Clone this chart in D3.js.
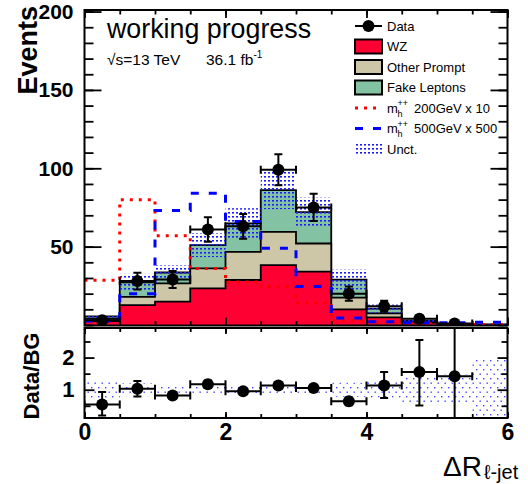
<!DOCTYPE html>
<html>
<head>
<meta charset="utf-8">
<script src="https://cdn.jsdelivr.net/npm/d3@7"></script>
<style>
  body { margin: 0; background: #fff; }
  svg { display: block; font-family: "Liberation Sans", Arial, sans-serif; }
</style>
</head>
<body>
<div id="chart"></div>
<script>
// ===== データ (ΔR_l-jet, 0.5 刻み) =====
const binEdges = [0, 0.5, 1, 1.5, 2, 2.5, 3, 3.5, 4, 4.5, 5, 5.5, 6];
const wz          = [2.5, 12.7, 14.9, 23.4, 28.7, 38.2, 34, 10, 4.9, 1.5, 0.4, 0.2];
const otherPrompt = [1.5, 5.3, 11.6, 12.7, 18, 21.2, 18, 7.5, 2.5, 0.6, 0.15, 0.05];
const fakeLeptons = [1.5, 9.2, 7, 14.9, 18.1, 26.6, 20, 11.5, 3, 0.7, 0.15, 0.05];
const dataCounts  = [3, 28, 29, 61, 63, 99, 75, 20, 12, 4, 1, 0];
const dataErr     = [1.7, 5.3, 5.4, 7.8, 7.9, 9.9, 8.7, 4.5, 3.5, 2, 1, 0];
const relUnct     = [0.27, 0.2, 0.14, 0.15, 0.15, 0.14, 0.13, 0.22, 0.25, 0.45, 0.47, 1.0];
const sig200      = [28.5, 80, 57, 36, 27.5, 24.5, 14, 3, 1.5, 0.8, 0.5, 0.3];
const sig500      = [2.5, 20, 73, 84, 66, 49, 24.5, 4.5, 2, 1.5, 1.5, 1.8];
const ratioVals   = [0.54, 1.03, 0.82, 1.17, 0.95, 1.13, 1.05, 0.64, 1.13, 1.55, 1.42, null];
const ratioErrLo  = [0.34, 0.24, 0.1, 0.12, 0.1, 0.1, 0.1, 0.12, 0.39, 1.04, 1.42, null];
const ratioErrHi  = [0.39, 0.24, 0.1, 0.12, 0.1, 0.1, 0.1, 0.12, 0.42, 1.0, 3.0, null];
const xTicks      = [0, 2, 4, 6];
const yTicks      = [50, 100, 150, 200];
const ratioTicks  = [1, 2];
const legendLabels = ['Data', 'WZ', 'Other Prompt', 'Fake Leptons', '200GeV x 10', '500GeV x 500', 'Unct.'];

(function () {
    // ===== 設定 =====
    const W = 528, H = 484;
    const X0 = 84.5, X1 = 507.5;
    const MAIN = { top: 10, bottom: 325.5 };
    const RAT = { top: 328, bottom: 418 };
    const COL = { wz: '#ff0033', op: '#cdc7a7', fake: '#83c2a2' };
    const BOLD = 'bold';

    const svg = d3.select('#chart').append('svg').attr('width', W).attr('height', H);
    const defs = svg.append('defs');

    // 点々ハッチ（不確かさ）
    const pMain = defs.append('pattern').attr('id', 'unctMain')
        .attr('patternUnits', 'userSpaceOnUse').attr('width', 4).attr('height', 4);
    pMain.append('rect').attr('width', 2).attr('height', 1.6).attr('fill', '#1a1aff');
    const pRat = defs.append('pattern').attr('id', 'unctRatio')
        .attr('patternUnits', 'userSpaceOnUse').attr('width', 7).attr('height', 9);
    pRat.append('rect').attr('width', 1.4).attr('height', 1.4).attr('fill', '#4444ff');
    pRat.append('rect').attr('x', 3.5).attr('y', 4.5).attr('width', 1.4).attr('height', 1.4).attr('fill', '#4444ff');

    defs.append('clipPath').attr('id', 'clipMain').append('rect')
        .attr('x', X0).attr('y', MAIN.top).attr('width', X1 - X0).attr('height', MAIN.bottom - MAIN.top);
    defs.append('clipPath').attr('id', 'clipRat').append('rect')
        .attr('x', X0).attr('y', RAT.top).attr('width', X1 - X0).attr('height', RAT.bottom - RAT.top);

    const x = d3.scaleLinear().domain([0, 6]).range([X0, X1]);
    const y = d3.scaleLinear().domain([0, 201]).range([325, MAIN.top]);
    const yr = d3.scaleLinear().domain([0.12, 2.92]).range([RAT.bottom, RAT.top]);

    const bins = wz.map((v, i) => {
        const total = v + otherPrompt[i] + fakeLeptons[i];
        return {
            lo: binEdges[i], hi: binEdges[i + 1], c: (binEdges[i] + binEdges[i + 1]) / 2,
            wz: v, op: v + otherPrompt[i], total,
            data: dataCounts[i], err: dataErr[i], unc: relUnct[i],
            r: ratioVals[i], rLo: ratioErrLo[i], rHi: ratioErrHi[i]
        };
    });

    const steps = vals => vals.flatMap((v, i) => [[binEdges[i], v], [binEdges[i + 1], v]]);
    const area = d3.area().x(d => x(d[0])).y0(y(0)).y1(d => y(d[1]));
    const line = d3.line().x(d => x(d[0])).y(d => y(d[1]));

    // ===== メインパネル =====
    const gm = svg.append('g').attr('clip-path', 'url(#clipMain)');
    const layers = [
        { vals: bins.map(b => b.total), fill: COL.fake },
        { vals: bins.map(b => b.op), fill: COL.op },
        { vals: bins.map(b => b.wz), fill: COL.wz }
    ];
    layers.forEach(l => {
        const pts = steps(l.vals);
        gm.append('path').attr('d', area(pts)).attr('fill', l.fill);
        gm.append('path').attr('d', line([[0, 0], ...pts, [6, 0]]))
            .attr('fill', 'none').attr('stroke', '#000').attr('stroke-width', 1.8);
    });

    gm.selectAll('rect.unc').data(bins).join('rect')
        .attr('x', d => x(d.lo)).attr('width', d => x(d.hi) - x(d.lo))
        .attr('y', d => y(d.total * (1 + d.unc)))
        .attr('height', d => y(d.total * (1 - d.unc)) - y(d.total * (1 + d.unc)))
        .attr('fill', 'url(#unctMain)');

    gm.append('path').attr('d', line(steps(sig200))).attr('fill', 'none')
        .attr('stroke', '#ff0000').attr('stroke-width', 3).attr('stroke-dasharray', '3,6');
    gm.append('path').attr('d', line(steps(sig500))).attr('fill', 'none')
        .attr('stroke', '#0000ff').attr('stroke-width', 3).attr('stroke-dasharray', '8,10');

    // データ点 + エラーバー
    function drawPoints(g, pts, yScale, val, lo, hi) {
        const cap = 4;
        const pg = g.selectAll('g.pt').data(pts).join('g').attr('class', 'pt')
            .attr('stroke', '#000').attr('stroke-width', 2);
        pg.append('line').attr('x1', d => x(d.lo)).attr('x2', d => x(d.hi))
            .attr('y1', d => yScale(val(d))).attr('y2', d => yScale(val(d)));
        pg.append('line').attr('x1', d => x(d.lo)).attr('x2', d => x(d.lo))
            .attr('y1', d => yScale(val(d)) - cap).attr('y2', d => yScale(val(d)) + cap);
        pg.append('line').attr('x1', d => x(d.hi)).attr('x2', d => x(d.hi))
            .attr('y1', d => yScale(val(d)) - cap).attr('y2', d => yScale(val(d)) + cap);
        pg.append('line').attr('x1', d => x(d.c)).attr('x2', d => x(d.c))
            .attr('y1', d => yScale(val(d) - lo(d))).attr('y2', d => yScale(val(d) + hi(d)));
        pg.append('line').attr('x1', d => x(d.c) - cap).attr('x2', d => x(d.c) + cap)
            .attr('y1', d => yScale(val(d) - lo(d))).attr('y2', d => yScale(val(d) - lo(d)));
        pg.append('line').attr('x1', d => x(d.c) - cap).attr('x2', d => x(d.c) + cap)
            .attr('y1', d => yScale(val(d) + hi(d))).attr('y2', d => yScale(val(d) + hi(d)));
        pg.append('circle').attr('cx', d => x(d.c)).attr('cy', d => yScale(val(d)))
            .attr('r', 6).attr('fill', '#000').attr('stroke', 'none');
    }
    drawPoints(gm, bins.filter(b => b.data > 0), y, d => d.data, d => d.err, d => d.err);

    // ===== 比率パネル =====
    const gr = svg.append('g').attr('clip-path', 'url(#clipRat)');
    gr.selectAll('rect.unc').data(bins).join('rect')
        .attr('x', d => x(d.lo)).attr('width', d => x(d.hi) - x(d.lo))
        .attr('y', d => yr(1 + d.unc)).attr('height', d => yr(1 - d.unc) - yr(1 + d.unc))
        .attr('fill', 'url(#unctRatio)');
    drawPoints(gr, bins.filter(b => b.r != null), yr, d => d.r, d => d.rLo, d => d.rHi);

    // ===== 軸 =====
    function ax(axis, tx, ty) {
        const g = svg.append('g').attr('transform', `translate(${tx},${ty})`).call(axis);
        g.select('.domain').remove();
        g.selectAll('line').attr('stroke', '#000').attr('stroke-width', 1.8);
        g.selectAll('text').attr('font-weight', BOLD).attr('fill', '#000')
            .style('font-family', '"Liberation Sans", Arial, sans-serif');
        return g;
    }
    const minorX = d3.range(0, 6.01, 0.5);
    // main
    ax(d3.axisLeft(y).tickValues(yTicks).tickSize(-17).tickPadding(11).tickFormat(d3.format('d')), X0, 0)
        .selectAll('text').style('font-size', '21px');
    ax(d3.axisLeft(y).tickValues(d3.range(0, 201, 10)).tickSize(-9).tickFormat(''), X0, 0);
    ax(d3.axisRight(y).tickValues(yTicks).tickSize(-17).tickFormat(''), X1, 0);
    ax(d3.axisRight(y).tickValues(d3.range(0, 201, 10)).tickSize(-9).tickFormat(''), X1, 0);
    ax(d3.axisTop(x).tickValues(xTicks).tickSize(-8).tickFormat(''), 0, MAIN.top);
    ax(d3.axisTop(x).tickValues(minorX).tickSize(-4.5).tickFormat(''), 0, MAIN.top);
    ax(d3.axisBottom(x).tickValues(xTicks).tickSize(-8).tickFormat(''), 0, MAIN.bottom);
    ax(d3.axisBottom(x).tickValues(minorX).tickSize(-4.5).tickFormat(''), 0, MAIN.bottom);
    // ratio
    ax(d3.axisLeft(yr).tickValues(ratioTicks).tickSize(-10).tickPadding(10).tickFormat(d3.format('d')), X0, 0)
        .selectAll('text').style('font-size', '22px');
    ax(d3.axisLeft(yr).tickValues([0.5, 1.5, 2.5]).tickSize(-6).tickFormat(''), X0, 0);
    ax(d3.axisRight(yr).tickValues(ratioTicks).tickSize(-10).tickFormat(''), X1, 0);
    ax(d3.axisRight(yr).tickValues([0.5, 1.5, 2.5]).tickSize(-6).tickFormat(''), X1, 0);
    ax(d3.axisTop(x).tickValues(xTicks).tickSize(-6).tickFormat(''), 0, RAT.top);
    ax(d3.axisTop(x).tickValues(minorX).tickSize(-4).tickFormat(''), 0, RAT.top);
    ax(d3.axisBottom(x).tickValues(xTicks).tickSize(-6).tickPadding(6).tickFormat(d3.format('d')), 0, RAT.bottom)
        .selectAll('text').style('font-size', '23px');
    ax(d3.axisBottom(x).tickValues(minorX).tickSize(-4).tickFormat(''), 0, RAT.bottom);

    // 枠
    [MAIN, RAT].forEach(p => svg.append('rect')
        .attr('x', X0).attr('y', p.top).attr('width', X1 - X0).attr('height', p.bottom - p.top)
        .attr('fill', 'none').attr('stroke', '#000').attr('stroke-width', 2));

    // 軸ラベル
    svg.append('text').attr('transform', 'translate(37,6) rotate(-90)')
        .attr('text-anchor', 'end').attr('font-weight', BOLD).style('font-size', '27px').text('Events');
    svg.append('text').attr('transform', 'translate(39,376) rotate(-90)')
        .attr('text-anchor', 'middle').attr('font-weight', BOLD).style('font-size', '22px').text('Data/BG');
    const xt = svg.append('text').attr('x', 443).attr('y', 476).style('font-size', '28px');
    xt.append('tspan').text('ΔR');
    xt.append('tspan').attr('dx', 2).attr('dy', 3).style('font-size', '20px').text('ℓ-jet');

    // 注記
    svg.append('text').attr('x', 107).attr('y', 38).style('font-size', '26.8px').text('working progress');
    svg.append('text').attr('x', 107).attr('y', 65).style('font-size', '15.5px').text('√s=13 TeV');
    const lumi = svg.append('text').attr('x', 206).attr('y', 65).style('font-size', '15.5px');
    lumi.append('tspan').text('36.1 fb');
    lumi.append('tspan').attr('dy', -7).style('font-size', '10px').text('-1');

    // ===== 凡例 =====
    const LX = 355, LW = 27, TX = 387, ROW = 20.5, LY0 = 26;
    const lg = svg.append('g');
    legendLabels.forEach((lab, i) => {
        const cy = LY0 + i * ROW;
        if (i === 0) {
            lg.append('line').attr('x1', LX).attr('x2', LX + LW).attr('y1', cy).attr('y2', cy)
                .attr('stroke', '#000').attr('stroke-width', 2);
            lg.append('circle').attr('cx', LX + LW / 2).attr('cy', cy).attr('r', 6);
        } else if (i <= 3) {
            lg.append('rect').attr('x', LX).attr('y', cy - 7).attr('width', LW).attr('height', 14)
                .attr('fill', [COL.wz, COL.op, COL.fake][i - 1]).attr('stroke', '#000').attr('stroke-width', 2);
        } else if (i === 4) {
            lg.append('line').attr('x1', LX).attr('x2', LX + LW).attr('y1', cy).attr('y2', cy)
                .attr('stroke', '#ff0000').attr('stroke-width', 3).attr('stroke-dasharray', '3,6');
        } else if (i === 5) {
            lg.append('line').attr('x1', LX).attr('x2', LX + LW).attr('y1', cy).attr('y2', cy)
                .attr('stroke', '#0000ff').attr('stroke-width', 3).attr('stroke-dasharray', '8,10');
        } else {
            lg.append('rect').attr('x', LX).attr('y', cy - 7).attr('width', LW).attr('height', 14)
                .attr('fill', 'url(#unctMain)');
        }
        if (i === 4 || i === 5) {
            lg.append('text').attr('x', TX).attr('y', cy + 4.5).style('font-size', '13px').text('m');
            lg.append('text').attr('x', TX + 10.5).attr('y', cy - 2).style('font-size', '9px').text('++');
            lg.append('text').attr('x', TX + 10.5).attr('y', cy + 8.5).style('font-size', '9px').text('h');
            lg.append('text').attr('x', TX + 27).attr('y', cy + 4.5).style('font-size', '13px').text(lab);
        } else {
            lg.append('text').attr('x', TX).attr('y', cy + 4.5).style('font-size', '13px').text(lab);
        }
    });
})();
</script>
</body>
</html>
